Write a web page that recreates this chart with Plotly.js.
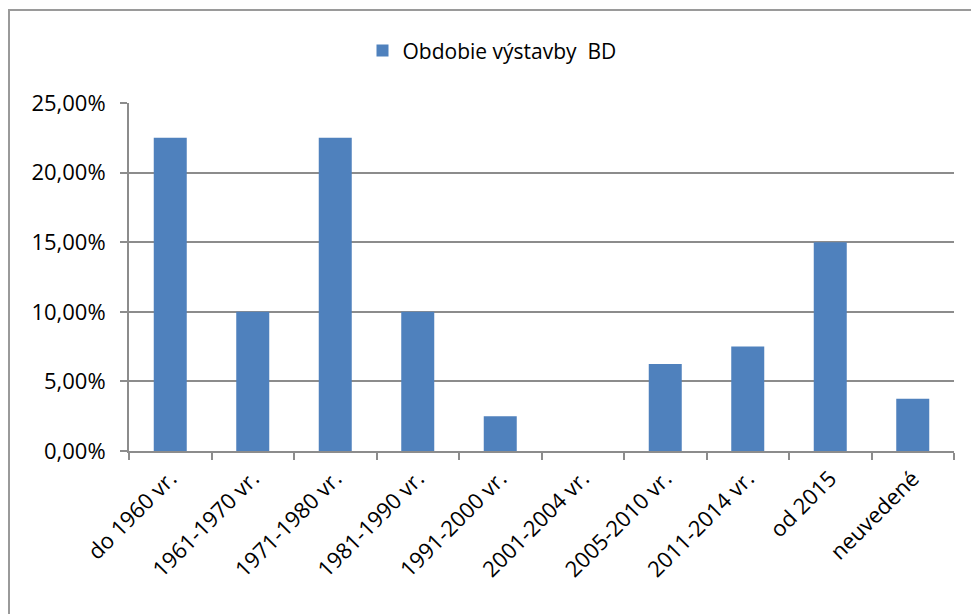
<!DOCTYPE html>
<html>
<head>
<meta charset="utf-8">
<script src="https://cdn.plot.ly/plotly-3.0.1.min.js"></script>
<style>
html,body{margin:0;padding:0;background:#fff;}
#wrap{position:relative;width:971px;height:614px;}
#chart{width:971px;height:614px;}
#frame{position:absolute;left:8px;top:9px;width:980px;height:700px;border-left:2px solid #9a9a9a;border-top:2px solid #9a9a9a;pointer-events:none;}
</style>
</head>
<body>
<div id="wrap"><div id="chart"></div><div id="frame"></div></div>
<script>
const categories = ["do 1960 vr.", "1961-1970 vr.", "1971-1980 vr.", "1981-1990 vr.", "1991-2000 vr.", "2001-2004 vr.", "2005-2010 vr.", "2011-2014 vr.", "od 2015", "neuvedené"];
const shares = [0.225, 0.10, 0.225, 0.10, 0.025, 0.0, 0.0625, 0.075, 0.15, 0.0375];
const seriesName = "Obdobie výstavby  BD";
const yTicks = [0, 0.05, 0.10, 0.15, 0.20, 0.25];

const fontFam = "Open Sans, Liberation Sans, sans-serif";
const trace = {
  type: "bar",
  x: categories,
  y: shares,
  name: seriesName,
  marker: {color: "#4F81BD", line: {width: 0}},
  hoverinfo: "x+y"
};
const layout = {
  width: 971, height: 614,
  margin: {l: 129, r: 17, t: 103, b: 163},
  paper_bgcolor: "#fff", plot_bgcolor: "#fff",
  separators: ", ",
  font: {family: fontFam, size: 22, color: "#000"},
  bargap: 0.6,
  showlegend: true,
  legend: {orientation: "h", x: 0.44, xanchor: "center", y: 1.15, yanchor: "middle",
           font: {family: fontFam, size: 21, color: "#000"}, bgcolor: "rgba(0,0,0,0)"},
  xaxis: {
    type: "category",
    showline: true, linecolor: "#8c8c8c", linewidth: 2,
    ticks: "outside", tickson: "boundaries", ticklen: 7, tickcolor: "#8c8c8c", tickwidth: 2,
    tickangle: -45, showgrid: false, ticklabelstandoff: 4,
    tickfont: {family: fontFam, size: 22, color: "#000"}
  },
  yaxis: {
    range: [0, 0.25], tickvals: yTicks, tickformat: ".2%",
    showline: true, linecolor: "#8c8c8c", linewidth: 2,
    ticks: "outside", ticklen: 7, tickcolor: "#8c8c8c", tickwidth: 2,
    showgrid: true, gridcolor: "#8c8c8c", gridwidth: 2,
    zeroline: false, ticklabelstandoff: 10,
    tickfont: {family: fontFam, size: 22, color: "#000"}
  }
};
Plotly.newPlot("chart", [trace], layout, {displayModeBar: false, staticPlot: true});
</script>
</body>
</html>
